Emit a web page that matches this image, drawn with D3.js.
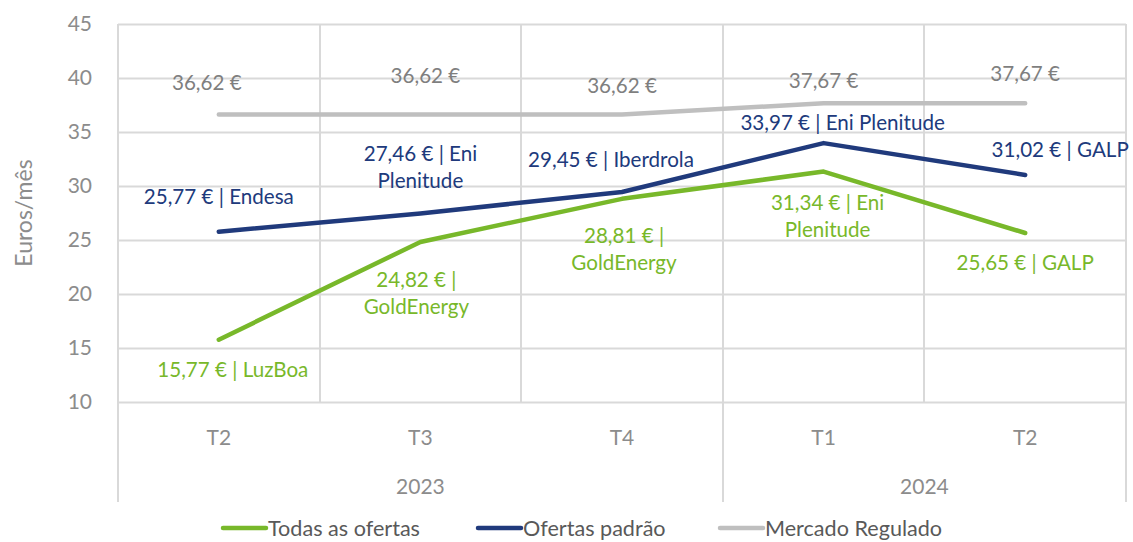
<!DOCTYPE html>
<html>
<head>
<meta charset="utf-8">
<script src="https://cdn.jsdelivr.net/npm/d3@7"></script>
<style>
  body { margin: 0; background: #fff; }
  svg { font-family: Lato, "Open Sans", sans-serif; }
</style>
</head>
<body>
<script>
// quarters and years
var quarters = ["T2", "T3", "T4", "T1", "T2"];
var years = [{ label: "2023", from: 0, to: 3 }, { label: "2024", from: 3, to: 5 }];
var yTicks = [10, 15, 20, 25, 30, 35, 40, 45];

var todasOfertas = [15.77, 24.82, 28.81, 31.34, 25.65];
var ofertasPadrao = [25.77, 27.46, 29.45, 33.97, 31.02];
var mercadoRegulado = [36.62, 36.62, 36.62, 37.67, 37.67];

var todasLabels = [["15,77 € | LuzBoa"], ["24,82 € |", "GoldEnergy"], ["28,81 € |", "GoldEnergy"], ["31,34 € | Eni", "Plenitude"], ["25,65 € | GALP"]];
var padraoLabels = [["25,77 € | Endesa"], ["27,46 € | Eni", "Plenitude"], ["29,45 € | Iberdrola"], ["33,97 € | Eni Plenitude"], ["31,02 € | GALP"]];
var reguladoLabels = [["36,62 €"], ["36,62 €"], ["36,62 €"], ["37,67 €"], ["37,67 €"]];

var series = [
  { name: "Todas as ofertas", values: todasOfertas, labels: todasLabels, color: "#78b82a" },
  { name: "Ofertas padrão", values: ofertasPadrao, labels: padraoLabels, color: "#203a7c" },
  { name: "Mercado Regulado", values: mercadoRegulado, labels: reguladoLabels, color: "#bfbfbf", textColor: "#7f7f7f" }
];

// label placement (centre of first line, relative to point)
var nudges = [
  [[14, 30], [-4, 38], [2, 37], [4, 31], [0, 30]],
  [[0, -35], [0, -60], [-11, -32], [19, -20], [35, -25]],
  [[-12, -32], [5, -39], [0, -29], [0, -22], [0, -29]]
];

var W = 1133, H = 542;
var margin = { left: 118, right: 7, top: 24, bottom: 140 };

var svg = d3.select("body").append("svg")
  .attr("width", W).attr("height", H);

var x = d3.scaleBand()
  .domain(d3.range(quarters.length))
  .range([margin.left, W - margin.right]);

var y = d3.scaleLinear()
  .domain([10, 45])
  .range([H - margin.bottom, margin.top]);

var grid = "#d9d9d9";

// horizontal grid
svg.append("g").selectAll("line")
  .data(yTicks).enter().append("line")
  .attr("x1", margin.left).attr("x2", W - margin.right)
  .attr("y1", d => Math.round(y(d)) + 0.5).attr("y2", d => Math.round(y(d)) + 0.5)
  .attr("stroke", grid).attr("stroke-width", 2);

// vertical grid between categories
var bounds = d3.range(quarters.length + 1).map(i => i < quarters.length ? x(i) : x(i - 1) + x.bandwidth());
var yearBounds = [0, 3, 5];
svg.append("g").selectAll("line")
  .data(bounds.map((b, i) => ({ b: b, i: i }))).enter().append("line")
  .attr("x1", d => Math.round(d.b)).attr("x2", d => Math.round(d.b))
  .attr("y1", margin.top)
  .attr("y2", d => yearBounds.indexOf(d.i) >= 0 ? 502 : y(10))
  .attr("stroke", grid).attr("stroke-width", 2);

// y tick labels
svg.append("g").selectAll("text")
  .data(yTicks).enter().append("text")
  .attr("x", 92).attr("y", d => y(d))
  .attr("dy", "0.35em")
  .attr("text-anchor", "end")
  .attr("fill", "#8c8c8c")
  .style("font-size", "21px")
  .text(d => d);

// quarter labels
svg.append("g").selectAll("text")
  .data(quarters).enter().append("text")
  .attr("x", (d, i) => x(i) + x.bandwidth() / 2)
  .attr("y", 438).attr("dy", "0.35em")
  .attr("text-anchor", "middle")
  .attr("fill", "#8c8c8c")
  .style("font-size", "21px")
  .text(d => d);

// year labels
svg.append("g").selectAll("text")
  .data(years).enter().append("text")
  .attr("x", d => (bounds[d.from] + bounds[d.to]) / 2)
  .attr("y", 487).attr("dy", "0.35em")
  .attr("text-anchor", "middle")
  .attr("fill", "#8c8c8c")
  .style("font-size", "21px")
  .text(d => d.label);

// axis title
svg.append("text")
  .attr("transform", "translate(24," + ((y(45) + y(10)) / 2) + ") rotate(-90)")
  .attr("dy", "0.35em")
  .attr("text-anchor", "middle")
  .attr("fill", "#8c8c8c")
  .style("font-size", "23px")
  .text("Euros/mês");

var line = d3.line()
  .x((d, i) => x(i) + x.bandwidth() / 2)
  .y(d => y(d));

// draw gray first, green last (green on top like reference)
[2, 1, 0].forEach(function(si) {
  var s = series[si];
  svg.append("path")
    .datum(s.values)
    .attr("d", line)
    .attr("fill", "none")
    .attr("stroke", s.color)
    .attr("stroke-width", 4.5)
    .attr("stroke-linecap", "round")
    .attr("stroke-linejoin", "round");
});

// data labels
series.forEach(function(s, si) {
  var g = svg.append("g");
  s.values.forEach(function(v, i) {
    var n = nudges[si][i];
    var t = g.append("text")
      .attr("x", x(i) + x.bandwidth() / 2 + n[0])
      .attr("y", y(v) + n[1])
      .attr("dy", "0.35em")
      .attr("text-anchor", "middle")
      .attr("fill", s.textColor || s.color)
      .style("font-size", "20.6px");
    s.labels[i].forEach(function(ln, k) {
      t.append("tspan")
        .attr("x", x(i) + x.bandwidth() / 2 + n[0])
        .attr("dy", k === 0 ? "0.35em" : "27px")
        .text(ln);
    });
  });
});

// legend
var legendX = [223, 478, 720];
var legend = svg.append("g");
series.forEach(function(s, i) {
  legend.append("line")
    .attr("x1", legendX[i]).attr("x2", legendX[i] + 43)
    .attr("y1", 528).attr("y2", 528)
    .attr("stroke", s.color).attr("stroke-width", 4.5)
    .attr("stroke-linecap", "round");
  legend.append("text")
    .attr("x", legendX[i] + 45).attr("y", 528)
    .attr("dy", "0.35em")
    .attr("fill", "#595959")
    .style("font-size", "21.6px")
    .text(s.name);
});
</script>
</body>
</html>
